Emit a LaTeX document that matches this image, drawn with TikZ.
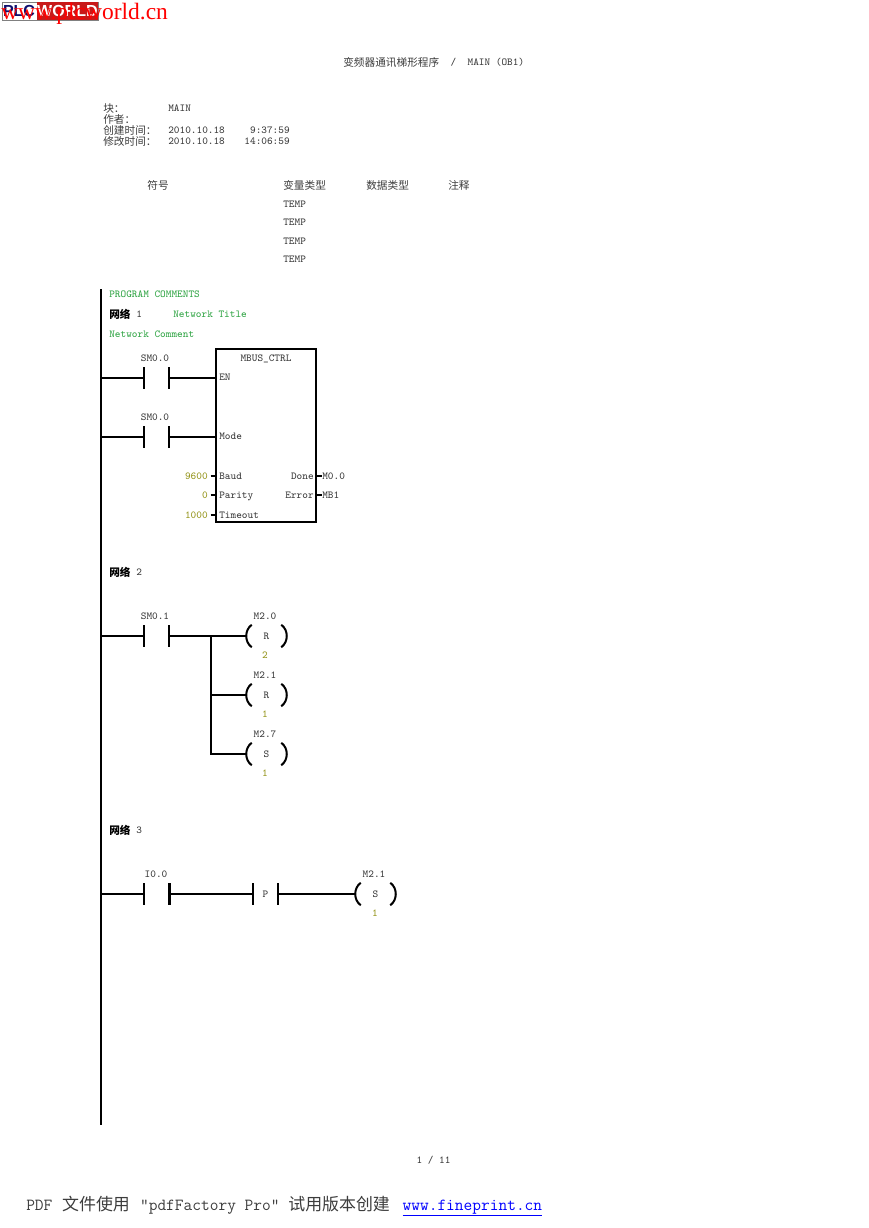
\documentclass[tikz,border=0pt]{standalone}
\usepackage{fontspec}
\usepackage{xcolor}
\setmonofont{Latin Modern Mono}
\setmainfont{Latin Modern Mono}
\newfontfamily\cjk{Noto Sans CJK SC}
\newfontfamily\markfont{Liberation Serif}
\newfontfamily\logofont{Liberation Sans}
\newcommand{\cjkt}[1]{\raisebox{-0.6pt}{\cjk #1}}
\newcommand{\cjkb}[1]{\raisebox{-0.6pt}{\cjk\bfseries\color{black}#1}}
\newcommand{\cjkf}[1]{{\cjk\fontsize{12.7pt}{14pt}\selectfont #1}}
\definecolor{notegreen}{RGB}{50,165,70}
\definecolor{valueolive}{RGB}{150,150,30}
\definecolor{inktext}{RGB}{60,60,60}
\definecolor{logored}{RGB}{200,25,25}
\definecolor{logonavy}{RGB}{15,15,110}
\usetikzlibrary{positioning,calc}

\begin{document}
\begin{tikzpicture}[
    x=0.75pt, y=-0.75pt,
    txt/.style={inner sep=0pt, text height=5pt, text depth=0pt, font=\fontsize{8pt}{9pt}\selectfont, text=inktext},
    lefttxt/.style={txt, anchor=west},
    righttxt/.style={txt, anchor=east},
    note/.style={lefttxt, text=notegreen},
    value/.style={txt, text=valueolive},
    rail/.style={line width=1.6pt},
    wire/.style={line width=1.5pt},
    stub/.style={line width=1.5pt},
    contact/.style={rectangle, inner sep=0pt, minimum width=18.75pt, minimum height=15.75pt, txt},
    coil/.style={rectangle, inner sep=0pt, minimum width=30.75pt, minimum height=16.5pt, txt},
    block/.style={rectangle, draw, line width=1.5pt, inner sep=0pt, outer sep=0pt, minimum width=75pt, minimum height=129.75pt}
]
\useasboundingbox (0,0) rectangle (868,1228);

% Logo and watermark
\node[rectangle, draw=gray, line width=0.5pt, fill=white, inner sep=0pt, minimum width=72pt, minimum height=13.5pt] (logobox) at (50,11) {};
\node[rectangle, fill=logored, inner sep=0pt, minimum width=46pt, minimum height=13pt, anchor=east] (logored) at (logobox.east) {};
\node[inner sep=0pt, font=\logofont\bfseries\fontsize{12pt}{14pt}\selectfont, text=logonavy] (logoplc) at (19,11) {PLC};
\node[inner sep=0pt, font=\logofont\bfseries\fontsize{12pt}{14pt}\selectfont, text=white] (logoworld) at (logored) {WORLD};
\node[anchor=west, inner sep=0pt, font=\markfont\fontsize{17.6pt}{18pt}\selectfont, text=red] (mark) at (1,14) {www.plcworld.cn};

% Page head
\node[lefttxt] (title) at (343,62) {\cjkt{变频器通讯梯形程序}\ \ /\ \ MAIN (OB1)};
\node[lefttxt] (blk) at (103,108) {\cjkt{块：}};
\node[lefttxt] (blkname) at (168,108) {MAIN};
\node[lefttxt] (auth) at (103,119) {\cjkt{作者：}};
\node[lefttxt] (made) at (103,130) {\cjkt{创建时间：}};
\node[lefttxt] (madedate) at (168,130) {2010.10.18};
\node[righttxt] (madetime) at (290,130) {9:37:59};
\node[lefttxt] (mod) at (103,141) {\cjkt{修改时间：}};
\node[lefttxt] (moddate) at (168,141) {2010.10.18};
\node[righttxt] (modtime) at (290,141) {14:06:59};

% Table of variables
\node[txt] (colsym) at (158,185) {\cjkt{符号}};
\node[lefttxt] (colvar) at (283,185) {\cjkt{变量类型}};
\node[lefttxt] (coldata) at (366,185) {\cjkt{数据类型}};
\node[lefttxt] (colnote) at (448,185) {\cjkt{注释}};
\foreach \name/\y in {tempa/204,tempb/222,tempc/241,tempd/259}
    \node[lefttxt] (\name) at (283,\y) {TEMP};

% Power rail
\coordinate (railtop) at (101,289);
\coordinate (railend) at (101,1125);
\draw[rail] (railtop) -- (railend);

% Network 1
\node[note] (comments) at (109,294) {PROGRAM COMMENTS};
\node[lefttxt] (neta) at (109,314) {\cjkb{网络} 1};
\node[note] (netatitle) at (173,314) {Network Title};
\node[note] (netacomment) at (109,334) {Network Comment};

\node[contact] (sma) at (156.5,378) {};
\node[txt] (smalabel) at (155,358) {SM0.0};
\node[contact] (smb) at (156.5,437) {};
\node[txt] (smblabel) at (155,417) {SM0.0};
\node[block, anchor=north west] (mbus) at (216,349) {};
\node[txt] (mbuslabel) at (266,358) {MBUS\_CTRL};
\node[lefttxt] (en) at (219,377) {EN};
\node[lefttxt] (mode) at (219,436) {Mode};
\node[lefttxt] (baud) at (219,476) {Baud};
\node[lefttxt] (parity) at (219,495) {Parity};
\node[lefttxt] (timeout) at (219,515) {Timeout};
\node[righttxt] (done) at (314,476) {Done};
\node[righttxt] (error) at (314,495) {Error};
\node[value, anchor=east] (vbaud) at (208,476) {9600};
\node[value, anchor=east] (vparity) at (208,495) {0};
\node[value, anchor=east] (vtimeout) at (208,515) {1000};
\node[lefttxt] (mdone) at (322,476) {M0.0};
\node[lefttxt] (merror) at (322,495) {MB1};

\draw[wire] (railtop |- sma) -- (sma.west);
\draw[wire] (sma.east) -- (sma.east -| mbus.west);
\draw[wire] (railtop |- smb) -- (smb.west);
\draw[wire] (smb.east) -- (smb.east -| mbus.west);
\foreach \v in {vbaud,vparity,vtimeout}
    \draw[stub] ([xshift=2pt]\v.east) -- (\v.east -| mbus.west);
\foreach \v in {mdone,merror}
    \draw[stub] (\v.west -| mbus.east) -- (\v.west);

% Network 2
\node[lefttxt] (netb) at (109,572) {\cjkb{网络} 2};
\node[contact] (smc) at (156.5,636) {};
\node[txt] (smclabel) at (155,616) {SM0.1};
\coordinate (branch) at (211,636);
\foreach \name/\y/\op/\adr/\n in {coila/636/R/M2.0/2,coilb/695/R/M2.1/1,coilc/754/S/M2.7/1} {
    \node[coil] (\name) at (266.5,\y) {\op\hspace{1.5pt}};
    \node[txt] (\name top) at (265,\y-20) {\adr};
    \node[value] (\name low) at (265,\y+19) {\n};
}
\draw[wire] (railtop |- smc) -- (smc.west);
\draw[wire] (smc.east) -- (coila.west);
\draw[wire] (branch) -- (branch |- coilc) -- (coilc.west);
\draw[wire] (branch |- coilb) -- (coilb.west);

% Network 3
\node[lefttxt] (netc) at (109,830) {\cjkb{网络} 3};
\node[contact] (ioa) at (156.5,894) {};
\node[txt] (ioalabel) at (156,874) {I0.0};
\node[contact] (pulse) at (265.5,894) {P};
\node[coil] (coild) at (375.5,894) {S};
\node[txt] (coildtop) at (374,874) {M2.1};
\node[value] (coildlow) at (375,913) {1};
\draw[wire] (railtop |- ioa) -- (ioa.west);
\draw[wire] (ioa.east) -- (pulse.west);
\draw[wire] (pulse.east) -- (coild.west);

% Contact bars and coil brackets
\foreach \c in {sma,smb,smc,ioa,pulse}
    \draw[wire] (\c.north west) -- (\c.south west) (\c.north east) -- (\c.south east);
\draw[line width=2.2pt] (ioa.north east) -- (ioa.south east);
\foreach \c in {coila,coilb,coilc,coild} {
    \draw[wire] ([xshift=4.5pt]\c.north west) .. controls ([xshift=-1pt,yshift=-4pt]\c.north west) and ([xshift=-1pt,yshift=4pt]\c.south west) .. ([xshift=4.5pt]\c.south west);
    \draw[wire] ([xshift=-4.5pt]\c.north east) .. controls ([xshift=1pt,yshift=-4pt]\c.north east) and ([xshift=1pt,yshift=4pt]\c.south east) .. ([xshift=-4.5pt]\c.south east);
}

% Page foot
\node[txt] (pageno) at (433.5,1160) {1 / 11};
\node[anchor=west, inner sep=0pt, text height=9pt, text depth=0pt, font=\fontsize{12.7pt}{14pt}\selectfont, text=inktext] (foot) at (26,1204) {PDF\hspace{0.75pt} \cjkf{文件使用}\hspace{1.1pt} "pdfFactory Pro" \cjkf{试用版本创建}\hspace{3pt} \textcolor{blue}{\underline{www.fineprint.cn}}};

\end{tikzpicture}
\end{document}
